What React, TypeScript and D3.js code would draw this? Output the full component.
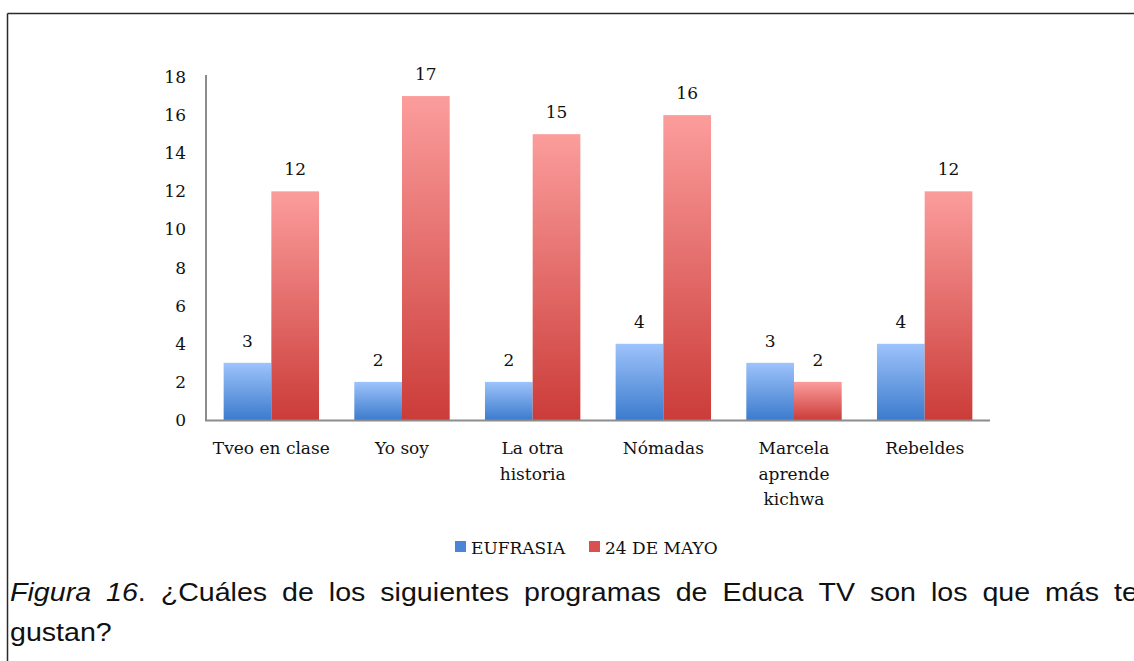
import React from "react";
import * as d3 from "d3";

const categories: string[][] = [
  ["Tveo en clase"],
  ["Yo soy"],
  ["La otra", "historia"],
  ["Nómadas"],
  ["Marcela", "aprende", "kichwa"],
  ["Rebeldes"],
];
const seriesNames = ["EUFRASIA", "24 DE MAYO"];
const eufrasia = [3, 2, 2, 4, 3, 4];
const mayo = [12, 17, 15, 16, 2, 12];
const yTicks = [0, 2, 4, 6, 8, 10, 12, 14, 16, 18];
const captionItalic = ["Figura", "16"];
const captionLine1 = ["¿Cuáles", "de", "los", "siguientes", "programas", "de", "Educa", "TV", "son", "los", "que", "más", "te"];
const captionLine2 = "gustan?";

const W = 1134;
const H = 661;
const serif = "'DejaVu Serif', serif";
const sansName = "'Liberation Sans', Arial, sans-serif";

const CAP_SIZE = 26;
const CAP_STRETCH = 1.1;

function measure(text: string, italic: boolean): number {
  if (typeof document === "undefined") return text.length * CAP_SIZE * 0.55;
  const c = document.createElement("canvas").getContext("2d");
  if (!c) return text.length * CAP_SIZE * 0.55;
  c.font = `${italic ? "italic " : ""}${CAP_SIZE}px 'Liberation Sans', Arial, sans-serif`;
  return c.measureText(text).width;
}

export default function App() {
  const left = 206, right = 990, top = 77, bottom = 420;
  const x = d3.scaleBand<number>().domain(d3.range(categories.length)).range([left, right]).paddingInner(0.27).paddingOuter(0.135);
  const y = d3.scaleLinear().domain([0, 18]).range([bottom, top]);
  const inner = d3.scaleBand<number>().domain([0, 1]).range([0, x.bandwidth()]);
  const series = [eufrasia, mayo];
  const grads = ["gBlue", "gRed"];
  const legendColors = ["#4a86d8", "#d9514f"];

  type Word = { parts: { t: string; it: boolean }[]; w: number };
  const words: Word[] = [
    { parts: [{ t: captionItalic[0], it: true }], w: 0 },
    { parts: [{ t: captionItalic[1], it: true }, { t: ".", it: false }], w: 0 },
    ...captionLine1.map((t) => ({ parts: [{ t, it: false }], w: 0 })),
  ];
  words.forEach((wd) => {
    wd.w = wd.parts.reduce((s, p) => s + measure(p.t, p.it), 0) * CAP_STRETCH;
  });
  const startX = 10;
  const lastStart = 1114;
  const sumW = words.slice(0, -1).reduce((s, wd) => s + wd.w, 0);
  const gap = (lastStart - startX - sumW) / (words.length - 1);
  const wordX: number[] = [];
  let cx = startX;
  words.forEach((wd) => {
    wordX.push(cx);
    cx += wd.w + gap;
  });

  return (
    <svg width={W} height={H} style={{ position: "absolute", left: 0, top: 0, background: "#fff" }}>
      <defs>
        <linearGradient id="gBlue" x1="0" y1="0" x2="0" y2="1">
          <stop offset="0" stopColor="#9dc3fb" />
          <stop offset="1" stopColor="#3c7bcd" />
        </linearGradient>
        <linearGradient id="gRed" x1="0" y1="0" x2="0" y2="1">
          <stop offset="0" stopColor="#fb9d9c" />
          <stop offset="1" stopColor="#cb3c39" />
        </linearGradient>
      </defs>
      <rect x={0} y={0} width={W} height={H} fill="#fff" />
      <line x1={7.5} y1={13.5} x2={W} y2={13.5} stroke="#2a2a2a" strokeWidth={1.5} />
      <line x1={7.5} y1={13.5} x2={7.5} y2={H} stroke="#2a2a2a" strokeWidth={1.5} />

      {yTicks.map((t) => (
        <text key={t} x={186} y={y(t)} dy="0.35em" textAnchor="end" fontFamily={serif} fontSize={17} fill="#111">
          {t}
        </text>
      ))}

      {series.map((vals, si) =>
        vals.map((v, i) => {
          const bx = (x(i) as number) + (inner(si) as number);
          const bw = inner.bandwidth();
          return (
            <g key={`${si}-${i}`}>
              <rect x={bx} y={y(v)} width={bw} height={y(0) - y(v)} fill={`url(#${grads[si]})`} />
              <text x={bx + bw / 2} y={y(v) - 16} textAnchor="middle" fontFamily={serif} fontSize={17} fill="#111">
                {v}
              </text>
            </g>
          );
        })
      )}

      <line x1={left} y1={top - 2} x2={left} y2={bottom + 1} stroke="#8c8c8c" strokeWidth={2} />
      <line x1={left - 1} y1={bottom + 0.5} x2={right} y2={bottom + 0.5} stroke="#8c8c8c" strokeWidth={2} />

      {categories.map((lines, i) => (
        <text key={i} textAnchor="middle" fontFamily={serif} fontSize={17} fill="#111">
          {lines.map((ln, j) => (
            <tspan key={j} x={(x(i) as number) + x.bandwidth() / 2} y={454 + j * 25.5}>
              {ln}
            </tspan>
          ))}
        </text>
      ))}

      {seriesNames.map((n, i) => {
        const lx = [455, 589][i];
        return (
          <g key={n}>
            <rect x={lx} y={541} width={11} height={11} fill={legendColors[i]} />
            <text x={lx + 16} y={554} fontFamily={serif} fontSize={17} fill="#111">
              {n}
            </text>
          </g>
        );
      })}

      {words.map((wd, i) => (
        <text key={i} transform={`translate(${wordX[i]},601) scale(${CAP_STRETCH},1)`} fontFamily={sansName} fontSize={CAP_SIZE} fill="#111">
          {wd.parts.map((p, j) => (
            <tspan key={j} fontStyle={p.it ? "italic" : "normal"}>
              {p.t}
            </tspan>
          ))}
        </text>
      ))}
      <text transform={`translate(10,641) scale(${CAP_STRETCH},1)`} fontFamily={sansName} fontSize={CAP_SIZE} fill="#111">
        {captionLine2}
      </text>
    </svg>
  );
}
